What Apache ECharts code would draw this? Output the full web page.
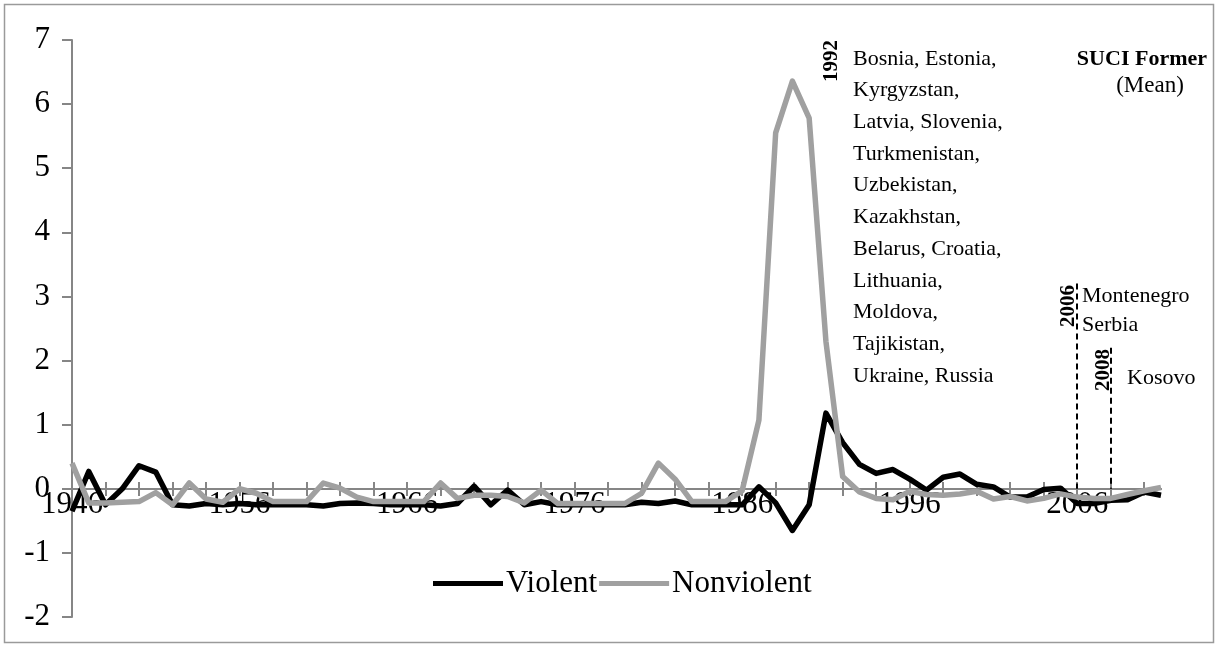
<!DOCTYPE html>
<html>
<head>
<meta charset="utf-8">
<script src="https://cdn.jsdelivr.net/npm/echarts@6/dist/echarts.min.js"></script>
<style>
  html, body { margin: 0; padding: 0; background: #fff; }
  #chart { width: 1218px; height: 647px; }
</style>
</head>
<body>
<div id="chart"></div>
<script>
// years 1946..2011
const years = [];
for (let y = 1946; y <= 2011; y++) years.push(String(y));

const violent = [
  -0.35, 0.27, -0.25, 0.0, 0.36, 0.26, -0.25, -0.27, -0.23, -0.25,   // 1946-1955
  -0.23, -0.25, -0.25, -0.25, -0.25, -0.27, -0.23, -0.22, -0.23, -0.25, // 1956-1965
  -0.25, -0.25, -0.27, -0.23, 0.04, -0.25, -0.02, -0.25, -0.2, -0.25,  // 1966-1975
  -0.25, -0.25, -0.25, -0.25, -0.21, -0.23, -0.19, -0.25, -0.25, -0.25, // 1976-1985
  -0.25, 0.03, -0.22, -0.65, -0.25, 1.18, 0.72, 0.38, 0.24, 0.30,      // 1986-1995
  0.15, -0.02, 0.18, 0.23, 0.07, 0.03, -0.13, -0.13, -0.01, 0.01,      // 1996-2005
  -0.23, -0.23, -0.18, -0.17, -0.05, -0.1                              // 2006-2011
];

const nonviolent = [
  0.40, -0.22, -0.22, -0.21, -0.20, -0.06, -0.25, 0.09, -0.16, -0.21,  // 1946-1955
  0.0, -0.07, -0.2, -0.2, -0.2, 0.09, 0.01, -0.13, -0.2, -0.2,         // 1956-1965
  -0.2, -0.2, 0.09, -0.15, -0.1, -0.1, -0.12, -0.22, -0.02, -0.23,     // 1966-1975
  -0.23, -0.23, -0.23, -0.23, -0.07, 0.40, 0.15, -0.2, -0.2, -0.2,     // 1976-1985
  -0.03, 1.07, 5.55, 6.36, 5.78, 2.3, 0.19, -0.05, -0.15, -0.17,       // 1986-1995
  -0.04, -0.09, -0.1, -0.08, -0.04, -0.16, -0.12, -0.19, -0.15, -0.08, // 1996-2005
  -0.13, -0.15, -0.15, -0.09, -0.03, 0.02                              // 2006-2011
];

// independence markers: year and top of dashed line
const markerYears = ['1992', '2006', '2008'];
const markerTops = [7.08, 3.2, 2.2];

const blockText = [
  'Bosnia, Estonia,', 'Kyrgyzstan,', 'Latvia, Slovenia,', 'Turkmenistan,',
  'Uzbekistan,', 'Kazakhstan,', 'Belarus, Croatia,', 'Lithuania,',
  'Moldova,', 'Tajikistan,', 'Ukraine, Russia'
];

const serif = '"Liberation Serif", "Times New Roman", serif';
const axisGray = '#868686';

const chart = echarts.init(document.getElementById('chart'));

const option = {
  animation: false,
  grid: { left: 72, right: 57, top: 40, bottom: 30, containLabel: false },
  // two x axes moved up to y = 0: one with labels + lower ticks, one with upper ticks
  xAxis: [{
    type: 'category',
    data: years,
    boundaryGap: false,
    position: 'bottom',
    offset: 0,
    axisLine: { onZero: false, lineStyle: { color: axisGray, width: 2 } },
    axisTick: { interval: 1, length: 7, lineStyle: { color: axisGray, width: 2 } },
    axisLabel: { interval: 9, margin: 0, fontFamily: serif, fontSize: 31, color: '#000' },
    splitLine: { show: false }
  }, {
    type: 'category',
    data: years,
    boundaryGap: false,
    position: 'bottom',
    offset: 0,
    axisLine: { onZero: false, lineStyle: { color: axisGray, width: 2 } },
    axisTick: { inside: true, interval: 1, length: 7, lineStyle: { color: axisGray, width: 2 } },
    axisLabel: { show: false },
    splitLine: { show: false }
  }],
  yAxis: {
    type: 'value',
    min: -2,
    max: 7,
    interval: 1,
    axisLine: { show: true, lineStyle: { color: axisGray, width: 2 } },
    axisTick: { show: true, length: 10, lineStyle: { color: axisGray, width: 2 } },
    axisLabel: { margin: 22, fontFamily: serif, fontSize: 31, color: '#000' },
    splitLine: { show: false }
  },
  legend: {
    left: 433,
    top: 568,
    padding: 0,
    icon: 'rect',
    itemWidth: 70,
    itemHeight: 5,
    itemGap: 2,
    textStyle: { fontFamily: serif, fontSize: 31, color: '#000', padding: [0, 0, 0, -2] },
    data: ['Violent', 'Nonviolent']
  },
  series: [{
    name: 'Violent',
    type: 'line',
    data: violent,
    symbol: 'none',
    lineStyle: { color: '#000', width: 5.5, join: 'round' },
    itemStyle: { color: '#000' },
    z: 3,
    markLine: {
      silent: true,
      symbol: 'none',
      label: { show: false },
      lineStyle: { color: '#000', width: 2, type: [6, 4] },
      data: markerYears.map((y, i) => [{ coord: [y, markerTops[i]] }, { coord: [y, 0] }])
    }
  }, {
    name: 'Nonviolent',
    type: 'line',
    data: nonviolent,
    symbol: 'none',
    lineStyle: { color: '#a0a0a0', width: 5.5, join: 'round' },
    itemStyle: { color: '#a0a0a0' },
    z: 4
  }],
  graphic: [
    { type: 'rect', shape: { x: 4.5, y: 4.5, width: 1209, height: 638 }, style: { fill: 'none', stroke: '#9a9a9a', lineWidth: 1.5 }, silent: true },
    { type: 'text', x: 853, y: 43, style: { text: blockText.join('\n'), font: '22px ' + serif, fill: '#000', lineHeight: 31.7, verticalAlign: 'top' }, z: 10 },
    { type: 'text', x: 1207, y: 59, style: { text: 'SUCI Former', font: 'bold 22px ' + serif, fill: '#000', align: 'right', verticalAlign: 'middle' }, z: 10 },
    { type: 'text', x: 1150, y: 86, style: { text: '(Mean)', font: '23px ' + serif, fill: '#000', align: 'center', verticalAlign: 'middle' }, z: 10 },
    { type: 'text', x: 832, y: 61, rotation: Math.PI / 2, style: { text: '1992', font: 'bold 21px ' + serif, fill: '#000', align: 'center', verticalAlign: 'middle' }, z: 10 },
    { type: 'text', x: 1069, y: 306, rotation: Math.PI / 2, style: { text: '2006', font: 'bold 21px ' + serif, fill: '#000', align: 'center', verticalAlign: 'middle' }, z: 10 },
    { type: 'text', x: 1104, y: 370, rotation: Math.PI / 2, style: { text: '2008', font: 'bold 21px ' + serif, fill: '#000', align: 'center', verticalAlign: 'middle' }, z: 10 },
    { type: 'text', x: 1082, y: 296, style: { text: 'Montenegro', font: '22px ' + serif, fill: '#000', verticalAlign: 'middle' }, z: 10 },
    { type: 'text', x: 1082, y: 325, style: { text: 'Serbia', font: '22px ' + serif, fill: '#000', verticalAlign: 'middle' }, z: 10 },
    { type: 'text', x: 1127, y: 378, style: { text: 'Kosovo', font: '22px ' + serif, fill: '#000', verticalAlign: 'middle' }, z: 10 }
  ]
};

chart.setOption(option);

// lift the x axes from the grid bottom to the zero line of the value axis
const zeroPx = chart.convertToPixel({ yAxisIndex: 0 }, 0);
const bottomPx = chart.convertToPixel({ yAxisIndex: 0 }, -2);
const lift = zeroPx - bottomPx;
chart.setOption({ xAxis: [{ offset: lift }, { offset: lift }] });
</script>
</body>
</html>
